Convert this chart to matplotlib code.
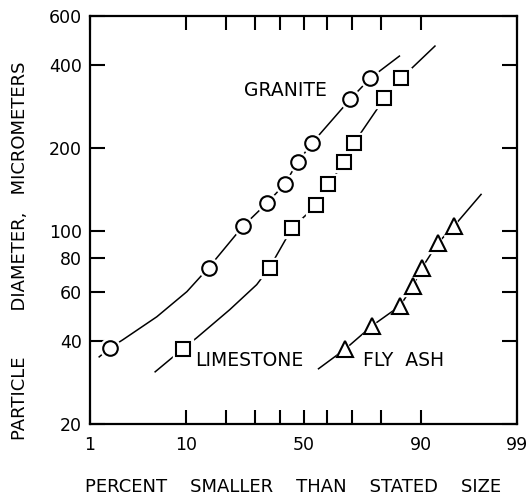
import math
import numpy as np
import matplotlib
matplotlib.use("Agg")
import matplotlib.pyplot as plt
from matplotlib.ticker import FixedLocator, NullFormatter, FixedFormatter

# values (percent smaller, diameter in micrometers)
granite_pct = [1.75, 15.1, 25.4, 34.4, 41.8, 47.4, 53.9, 69.5, 76.7]
granite_dia = [37.7, 73.7, 103.8, 125.8, 147.4, 177, 209, 300, 357.6]
limestone_pct = [9.4, 35.6, 45.2, 55.6, 60.7, 67.2, 71.0, 81.1, 85.7]
limestone_dia = [37.4, 73.7, 102.9, 123.7, 147.4, 177, 209, 302, 357.6]
flyash_pct = [67.6, 77.3, 85.4, 88.4, 90.2, 92.9, 95.0]
flyash_dia = [37.4, 45.4, 53.6, 63.4, 73.7, 90.8, 104.6]

# hand drawn curves through the points
granite_curve_pct = [1.3, 1.75, 2.46, 5.5, 10.2, 15.1, 25.4, 34.4, 41.8, 47.4, 53.9, 69.5, 76.7, 85.2]
granite_curve_dia = [35.0, 37.7, 40.4, 48.9, 60.3, 73.7, 103.8, 125.8, 147.4, 177, 209, 300, 357.6, 429.6]
limestone_curve_pct = [5.3, 9.4, 12.2, 21.1, 30.5, 35.6, 45.2, 55.6, 60.7, 67.2, 71.0, 81.1, 85.7, 92.4]
limestone_curve_dia = [30.9, 37.4, 41.0, 51.9, 63.9, 73.7, 102.9, 123.7, 147.4, 177, 209, 302, 357.6, 467]
flyash_curve_pct = [56.5, 67.6, 77.3, 85.4, 88.4, 90.2, 92.9, 95.0, 97.35]
flyash_curve_dia = [31.7, 37.4, 45.4, 53.6, 63.4, 73.7, 90.8, 104.6, 135.6]

xticks_major = [1, 10, 50, 90, 99]
xticks_minor = [20, 30, 40, 60, 70, 80]
yticks = [20, 40, 60, 80, 100, 200, 400, 600]


def ppf(p):
    # inverse normal cdf (Acklam approximation), p in percent
    p = np.clip(np.asarray(p, dtype=float) / 100.0, 1e-9, 1 - 1e-9)
    a = [-3.969683028665376e+01, 2.209460984245205e+02, -2.759285104469687e+02,
         1.383577518672690e+02, -3.066479806614716e+01, 2.506628277459239e+00]
    b = [-5.447609879822406e+01, 1.615858368580409e+02, -1.556989798598866e+02,
         6.680131188771972e+01, -1.328068155288572e+01]
    c = [-7.784894002430293e-03, -3.223964580411365e-01, -2.400758277161838e+00,
         -2.549732539343734e+00, 4.374664141464968e+00, 2.938163982698783e+00]
    d = [7.784695709041462e-03, 3.224671290700398e-01, 2.445134137142996e+00,
         3.754408661907416e+00]
    out = np.empty_like(p)
    lo = p < 0.02425
    hi = p > 1 - 0.02425
    mid = ~(lo | hi)
    q = np.sqrt(-2 * np.log(p[lo]))
    out[lo] = (((((c[0]*q+c[1])*q+c[2])*q+c[3])*q+c[4])*q+c[5]) / ((((d[0]*q+d[1])*q+d[2])*q+d[3])*q+1)
    q = np.sqrt(-2 * np.log(1 - p[hi]))
    out[hi] = -(((((c[0]*q+c[1])*q+c[2])*q+c[3])*q+c[4])*q+c[5]) / ((((d[0]*q+d[1])*q+d[2])*q+d[3])*q+1)
    q = p[mid] - 0.5
    r = q * q
    out[mid] = (((((a[0]*r+a[1])*r+a[2])*r+a[3])*r+a[4])*r+a[5])*q / (((((b[0]*r+b[1])*r+b[2])*r+b[3])*r+b[4])*r+1)
    return out


def cdf(z):
    z = np.asarray(z, dtype=float)
    return 100.0 * 0.5 * (1 + np.vectorize(math.erf)(z / math.sqrt(2)))


plt.rcParams['font.family'] = 'DejaVu Sans'

fig = plt.figure(figsize=(5.3, 4.96), dpi=100)
ax = fig.add_axes([90/530, 72/496, 427/530, 408/496])
ax.set_xscale('function', functions=(ppf, cdf))
ax.set_yscale('log')
ax.set_xlim(1, 99)
ax.set_ylim(20, 600)

lw = 1.1
for cp, cd in [(granite_curve_pct, granite_curve_dia),
               (limestone_curve_pct, limestone_curve_dia),
               (flyash_curve_pct, flyash_curve_dia)]:
    ax.plot(cp, cd, color='black', lw=lw, zorder=2)

# white halo first so the line stops short of each marker
for px, dy, m, ms in [(granite_pct, granite_dia, 'o', 10.5),
                      (limestone_pct, limestone_dia, 's', 10),
                      (flyash_pct, flyash_dia, '^', 11)]:
    ax.plot(px, dy, ls='none', marker=m, ms=ms + 4, mfc='white', mec='white', zorder=3)
    ax.plot(px, dy, ls='none', marker=m, ms=ms, mfc='white', mec='black', mew=1.5, zorder=4)

fig.text(285/530, 1 - 91/496, "GRANITE", fontsize=13.5, ha='center', va='center')
fig.text(195/530, 1 - 361/496, "LIMESTONE", fontsize=13.5, ha='left', va='center')
fig.text(363/530, 1 - 361/496, "FLY  ASH", fontsize=13.5, ha='left', va='center')

ax.xaxis.set_major_locator(FixedLocator(xticks_major))
ax.xaxis.set_major_formatter(FixedFormatter([str(v) for v in xticks_major]))
ax.xaxis.set_minor_locator(FixedLocator(xticks_minor))
ax.xaxis.set_minor_formatter(NullFormatter())
ax.yaxis.set_major_locator(FixedLocator(yticks))
ax.yaxis.set_major_formatter(FixedFormatter([str(v) for v in yticks]))
ax.yaxis.set_minor_locator(FixedLocator([]))

ax.tick_params(axis='x', which='both', direction='in', top=True, length=10, width=1.5,
               pad=9, labelsize=12.5)
ax.tick_params(axis='y', which='both', direction='in', right=True, length=11, width=1.5,
               pad=6, labelsize=12.5)
for s in ax.spines.values():
    s.set_linewidth(1.6)

fig.text(20/530, 1 - 251/496, "PARTICLE        DIAMETER,   MICROMETERS", rotation=90,
         ha='center', va='center', fontsize=13)
fig.text(293/530, 1 - 487/496, "PERCENT    SMALLER    THAN    STATED    SIZE",
         ha='center', va='center', fontsize=13)

fig.savefig("out.png", dpi=100)
